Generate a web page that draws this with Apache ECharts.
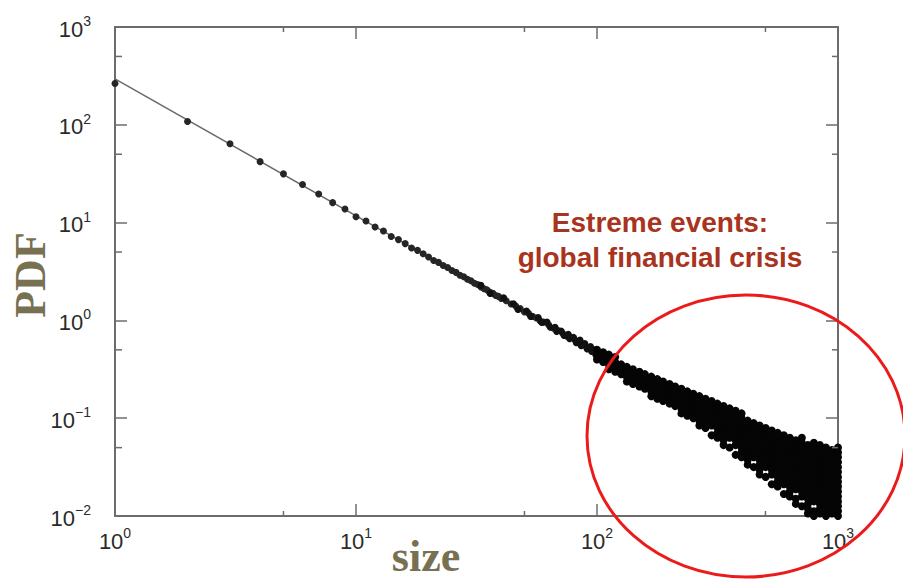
<!DOCTYPE html>
<html><head><meta charset="utf-8">
<script src="https://cdn.jsdelivr.net/npm/echarts@6/dist/echarts.min.js"></script>
<style>html,body{margin:0;padding:0;background:#fff}#c{width:903px;height:580px}</style>
</head><body><div id="c"></div>
<script>
// ---- data ----
const headX = [1,2,3,4,5,6,7,8,9,10,11,12,13,14,15,16,17,18,19,20,21,22,23,24,25,26,27,28,29,30,31,32,33,34,35,36,37,38,39,40,42,44,46,48,50,52,54,56,58,60,63,66,69,72,75,78,81,84,87,90,93,96];
const headY = [265,108,64,42,31.5,24.5,19.6,16.0,13.8,11.5,10.4,9.0,8.2,7.2,6.7,6.1,5.5,5.2,4.8,4.45,4.1,3.92,3.64,3.47,3.24,3.10,2.90,2.80,2.63,2.54,2.40,2.33,2.20,2.11,2.05,1.94,1.89,1.80,1.76,1.68,1.59,1.47,1.40,1.32,1.22,1.18,1.10,1.06,0.99,0.96,0.90,0.83,0.79,0.74,0.69,0.67,0.63,0.59,0.575,0.54,0.52,0.49];
const edgeX = [33,36,41,45,47,51,53,57,59,62,64,67,68,71,73,76,77,80,82,85,86,89,91,94,95,98,99];
const edgeY = [2.28,1.88,1.70,1.48,1.29,1.25,1.10,1.07,0.95,0.96,0.85,0.85,0.77,0.78,0.70,0.72,0.65,0.67,0.59,0.63,0.55,0.58,0.51,0.54,0.48,0.50,0.44];
const tailX = [100,106,112,119,126,133,141,150,158,168,178,188,200,211,224,237,251,266,282,299,316,335,355,376,398,422,447,473,501,531,562,596,631,668,708,750,794,841,891,944,1000];
const tailY = [
[0.501,0.447,0.398],
[0.473,0.422,0.376],
[0.447,0.398,0.355,0.316],
[0.422,0.376,0.335,0.299],
[0.355,0.316,0.282],
[0.335,0.299,0.266,0.237],
[0.316,0.282,0.251,0.224],
[0.299,0.266,0.237,0.211],
[0.282,0.251,0.224,0.200],
[0.266,0.237,0.211,0.188,0.168],
[0.251,0.224,0.200,0.178,0.158],
[0.237,0.211,0.188,0.168,0.150],
[0.224,0.200,0.178,0.158,0.141],
[0.211,0.188,0.168,0.150,0.133],
[0.200,0.178,0.158,0.141,0.126,0.112],
[0.188,0.168,0.150,0.133,0.119,0.106],
[0.178,0.158,0.141,0.126,0.112,0.100],
[0.168,0.150,0.133,0.119,0.106,0.0944,0.0841],
[0.158,0.141,0.126,0.112,0.100,0.0891,0.0794],
[0.150,0.133,0.119,0.106,0.0944,0.0841,0.0668],
[0.141,0.126,0.112,0.100,0.0891,0.0794,0.0708,0.0631],
[0.133,0.119,0.106,0.0944,0.0841,0.0750,0.0668,0.0596,0.0531],
[0.126,0.112,0.100,0.0891,0.0794,0.0708,0.0631,0.0501],
[0.119,0.106,0.0944,0.0841,0.0750,0.0668,0.0596,0.0531,0.0422],
[0.112,0.100,0.0891,0.0794,0.0708,0.0631,0.0562,0.0501,0.0447,0.0398],
[0.0944,0.0841,0.0750,0.0668,0.0596,0.0531,0.0473,0.0422,0.0376,0.0335],
[0.0891,0.0794,0.0708,0.0631,0.0562,0.0501,0.0447,0.0398,0.0316],
[0.0841,0.0750,0.0668,0.0596,0.0531,0.0473,0.0422,0.0376,0.0335,0.0299,0.0266],
[0.0794,0.0708,0.0631,0.0562,0.0501,0.0447,0.0398,0.0355,0.0316,0.0251],
[0.0750,0.0668,0.0596,0.0531,0.0473,0.0422,0.0376,0.0335,0.0299,0.0266,0.0211],
[0.0708,0.0631,0.0562,0.0501,0.0447,0.0398,0.0355,0.0316,0.0282,0.0251,0.0224,0.0200],
[0.0668,0.0596,0.0531,0.0473,0.0422,0.0376,0.0335,0.0299,0.0266,0.0237,0.0211,0.0168],
[0.0631,0.0562,0.0501,0.0447,0.0398,0.0355,0.0316,0.0282,0.0251,0.0224,0.0200,0.0178,0.0158],
[0.0596,0.0531,0.0473,0.0422,0.0376,0.0335,0.0299,0.0266,0.0237,0.0211,0.0188,0.0150,0.0133],
[0.0631,0.0562,0.0501,0.0447,0.0398,0.0355,0.0316,0.0282,0.0251,0.0224,0.0200,0.0178,0.0158,0.0126],
[0.0531,0.0473,0.0422,0.0376,0.0335,0.0299,0.0266,0.0237,0.0211,0.0188,0.0168,0.0150,0.0133,0.0119,0.0106],
[0.0562,0.0501,0.0447,0.0398,0.0355,0.0316,0.0282,0.0251,0.0224,0.0200,0.0178,0.0158,0.0141,0.0112,0.0100],
[0.0531,0.0473,0.0422,0.0376,0.0335,0.0299,0.0266,0.0237,0.0211,0.0188,0.0168,0.0150,0.0133,0.0119,0.0106],
[0.0501,0.0447,0.0398,0.0355,0.0316,0.0282,0.0251,0.0224,0.0200,0.0178,0.0158,0.0141,0.0126,0.0112,0.0100],
[0.0473,0.0422,0.0376,0.0335,0.0299,0.0266,0.0237,0.0211,0.0188,0.0168,0.0150,0.0133,0.0119,0.0106],
[0.0501,0.0447,0.0398,0.0355,0.0316,0.0282,0.0251,0.0224,0.0200,0.0178,0.0158,0.0141,0.0126,0.0112,0.0100]
];
const fitX = [1, 1000];
const fitY = [295, 0.0186];
const xRange = [1, 1000];
const yRange = [0.01, 1000];
const xMinor = [5, 50, 500];
const yMinor = [0.05, 0.5, 5, 50, 500];
const xTitle = 'size';
const yTitle = 'PDF';
const noteText = 'Estreme events:\nglobal financial crisis';

// ---- build ----
const headPts = headX.map((x, i) => [x, headY[i]]);
const edgePts = edgeX.map((x, i) => [x, edgeY[i]]);
const tailPts = [];
tailX.forEach((x, i) => tailY[i].forEach(y => tailPts.push([x, y])));
const fitPts = fitX.map((x, i) => [x, fitY[i]]);

const AX = '#6c6c6c';
function fmt(v) {
  const e = Math.round(Math.log10(v));
  return '{b|10}{s|' + (e < 0 ? '\u2212' + (-e) : e) + '}';
}
const rich = {
  b: {fontSize: 22, fontFamily: 'Liberation Sans', color: '#2b2b2b', verticalAlign: 'bottom', lineHeight: 26},
  s: {fontSize: 14, fontFamily: 'Liberation Sans', color: '#2b2b2b', verticalAlign: 'top', lineHeight: 26}
};
function axisCommon(extra) {
  return Object.assign({
    type: 'log', logBase: 10,
    axisLine: {show: true, onZero: false, lineStyle: {color: AX, width: 2}},
    axisTick: {show: true, inside: true, length: 12, lineStyle: {color: AX, width: 1.5}},
    splitLine: {show: false},
    minorTick: {show: false}
  }, extra);
}

const chart = echarts.init(document.getElementById('c'), null, {renderer: 'svg'});
chart.setOption({
  animation: false,
  backgroundColor: '#ffffff',
  grid: {left: 115, top: 27, width: 723, height: 489, show: false},
  xAxis: [
    axisCommon({min: xRange[0], max: xRange[1], position: 'bottom',
      axisLabel: {margin: 10, formatter: fmt, rich: rich}}),
    axisCommon({min: xRange[0], max: xRange[1], position: 'top', axisLabel: {show: false}})
  ],
  yAxis: [
    axisCommon({min: yRange[0], max: yRange[1], position: 'left',
      axisLabel: {margin: 24, formatter: fmt, rich: rich}}),
    axisCommon({min: yRange[0], max: yRange[1], position: 'right', axisLabel: {show: false}})
  ],
  series: [
    {type: 'line', data: fitPts, showSymbol: false, symbol: 'none',
      lineStyle: {color: '#6a6a6a', width: 1.5}, z: 1},
    {type: 'scatter', data: headPts, symbol: 'circle', symbolSize: 7,
      itemStyle: {color: '#262626', opacity: 1}, z: 2},
    {type: 'scatter', data: edgePts, symbol: 'circle', symbolSize: 7,
      itemStyle: {color: '#111111', opacity: 1}, z: 2},
    {type: 'scatter', data: tailPts, symbol: 'circle', symbolSize: 8,
      itemStyle: {color: '#050505', opacity: 1}, z: 2},
    {type: 'custom', data: xMinor.map(v => [v, yRange[0]]), z: 5, clip: false,
      renderItem: function (p, api) {
        const v = api.value(0);
        const b = api.coord([v, yRange[0]]), t = api.coord([v, yRange[1]]);
        return {type: 'group', children: [
          {type: 'line', shape: {x1: b[0], y1: b[1], x2: b[0], y2: b[1] - 5}, style: {stroke: AX, lineWidth: 1.5}},
          {type: 'line', shape: {x1: t[0], y1: t[1], x2: t[0], y2: t[1] + 5}, style: {stroke: AX, lineWidth: 1.5}}
        ]};
      }},
    {type: 'custom', data: yMinor.map(v => [xRange[0], v]), z: 5, clip: false,
      renderItem: function (p, api) {
        const v = api.value(1);
        const l = api.coord([xRange[0], v]), r = api.coord([xRange[1], v]);
        return {type: 'group', children: [
          {type: 'line', shape: {x1: l[0], y1: l[1], x2: l[0] + 7, y2: l[1]}, style: {stroke: AX, lineWidth: 1.5}},
          {type: 'line', shape: {x1: r[0], y1: r[1], x2: r[0] - 6, y2: r[1]}, style: {stroke: AX, lineWidth: 1.5}}
        ]};
      }}
  ],
  graphic: [
    {type: 'text', x: 30, y: 275, rotation: Math.PI / 2, z: 10,
      style: {text: yTitle, font: 'bold 44px "Liberation Serif"', fill: '#777152',
        align: 'center', verticalAlign: 'middle', textAlign: 'center', textVerticalAlign: 'middle'}},
    {type: 'text', x: 426, y: 556, z: 10,
      style: {text: xTitle, font: 'bold 44px "Liberation Serif"', fill: '#777152',
        align: 'center', verticalAlign: 'middle', textAlign: 'center', textVerticalAlign: 'middle'}},
    {type: 'text', x: 660, y: 240, z: 10,
      style: {text: noteText, font: 'bold 28px "Liberation Sans"', fill: '#a83420', lineHeight: 35,
        align: 'center', verticalAlign: 'middle', textAlign: 'center', textVerticalAlign: 'middle'}},
    {type: 'ellipse', z: 20, shape: {cx: 746, cy: 436, rx: 159, ry: 141},
      style: {fill: 'none', stroke: '#ec1b1b', lineWidth: 3}}
  ]
});
</script></body></html>
